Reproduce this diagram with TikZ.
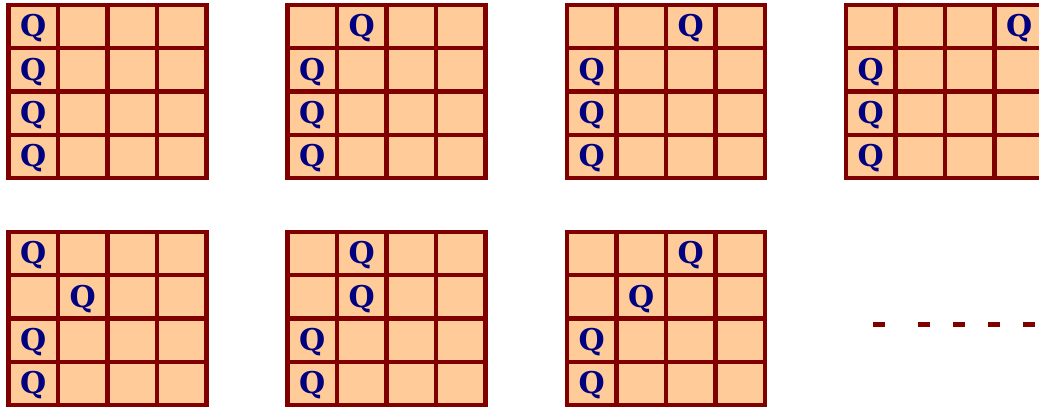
\documentclass[tikz,border=0pt]{standalone}
\usepackage{fontspec}
\setmainfont{DejaVu Serif}
\definecolor{cellfill}{HTML}{FFCC99}
\definecolor{gridred}{HTML}{800000}
\definecolor{qnavy}{HTML}{000080}
\begin{document}
\begin{tikzpicture}[x=1pt,y=1pt,
  gridline/.style={draw=gridred,line width=4.3pt},
  queen/.style={text=qnavy,font=\bfseries\fontsize{30}{30}\selectfont,inner sep=0pt,anchor=center},
  dashline/.style={draw=gridred,line width=5pt,
    dash pattern=on 12pt off 33pt on 12pt off 23pt on 12pt off 23pt on 12pt off 23pt on 12pt off 23pt}]
\useasboundingbox (0,0) rectangle (1039,-407);
\clip (0,0) rectangle (1039,-407);
\foreach \bx/\by/\qs [count=\b] in {
  8.5/-5/{0,0,0,0},
  287.5/-5/{1,0,0,0},
  567/-5/{2,0,0,0},
  846/-5/{3,0,0,0},
  8.5/-232/{0,1,0,0},
  287.5/-232/{1,1,0,0},
  567/-232/{2,1,0,0}}{
  \fill[cellfill] (\bx,\by) rectangle (\bx+198,\by-173.2);
  \foreach \i in {0,...,4}{
    \draw[gridline] (\bx+\i*49.5,\by+2) -- (\bx+\i*49.5,\by-175.2);
    \draw[gridline] (\bx-2.5,\by-\i*43.3) -- (\bx+200,\by-\i*43.3);
  }
  \foreach \c [count=\r from 0] in \qs{
    \node[queen] (q\b-\r) at (\bx+\c*49.5+24.75,\by-\r*43.3-23.5) {Q};
  }
}
\coordinate (dashstart) at (873,-324);
\coordinate (dashend) at (1036,-324);
\draw[dashline] (dashstart) -- (dashend);
\end{tikzpicture}
\end{document}
